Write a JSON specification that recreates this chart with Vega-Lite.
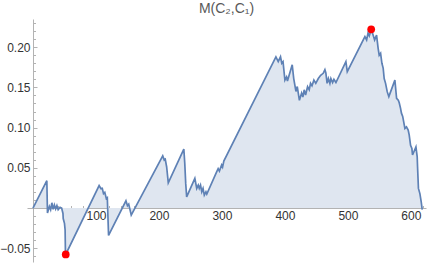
{
  "$schema": "https://vega.github.io/schema/vega-lite/v6.json",
  "width": 399,
  "height": 243,
  "autosize": {"type": "none"},
  "padding": {"left": 27, "top": 19, "right": 5, "bottom": 5},
  "background": "white",
  "config": {
    "view": {"stroke": null},
    "axis": {
      "labelFont": "Liberation Sans",
      "labelFontSize": 12,
      "labelColor": "#333333",
      "domainColor": "#b3b3b3",
      "tickColor": "#b3b3b3",
      "grid": false,
      "title": null,
      "zindex": 1
    }
  },
  "title": {
    "text": "M(C₂,C₁)",
    "font": "Liberation Sans",
    "fontSize": 14,
    "fontWeight": "normal",
    "color": "#595959",
    "anchor": "middle",
    "offset": 3
  },
  "datasets": {
    "walk": [
      {"x": 0, "y": 0}, {"x": 22, "y": 0.034}, {"x": 23, "y": -0.006}, {"x": 26, "y": 0.002},
      {"x": 28, "y": -0.002}, {"x": 30, "y": 0.0066}, {"x": 32, "y": -0.0016}, {"x": 34, "y": 0.004},
      {"x": 36, "y": -0.001}, {"x": 38, "y": 0.003}, {"x": 40, "y": -0.002}, {"x": 43, "y": 0.001},
      {"x": 45.5, "y": 0}, {"x": 47.6, "y": -0.0067}, {"x": 48, "y": -0.013}, {"x": 50, "y": -0.019},
      {"x": 51, "y": -0.027}, {"x": 51.5, "y": -0.054}, {"x": 52, "y": -0.0576},
      {"x": 105, "y": 0.028}, {"x": 108, "y": 0.024}, {"x": 110, "y": 0.0245}, {"x": 112, "y": 0.018},
      {"x": 114, "y": 0.0195}, {"x": 116.4, "y": 0.012}, {"x": 118, "y": 0.013}, {"x": 120, "y": -0.034},
      {"x": 147.6, "y": 0.009}, {"x": 150, "y": 0.003}, {"x": 152, "y": 0.005}, {"x": 156, "y": -0.0087},
      {"x": 206, "y": 0.065}, {"x": 208.4, "y": 0.0597}, {"x": 210, "y": 0.0606}, {"x": 212.2, "y": 0.0514},
      {"x": 214.8, "y": 0.0315}, {"x": 239.5, "y": 0.0734}, {"x": 241, "y": 0.0556}, {"x": 242.5, "y": 0.0307},
      {"x": 244, "y": 0.014}, {"x": 257, "y": 0.037}, {"x": 260, "y": 0.0245}, {"x": 262.4, "y": 0.0286},
      {"x": 264, "y": 0.0245}, {"x": 266, "y": 0.0286}, {"x": 268, "y": 0.0203}, {"x": 270, "y": 0.0245},
      {"x": 272, "y": 0.0162}, {"x": 274.6, "y": 0.0203}, {"x": 276, "y": 0.0174}, {"x": 291.6, "y": 0.045},
      {"x": 294, "y": 0.049}, {"x": 296, "y": 0.046}, {"x": 299.5, "y": 0.0535}, {"x": 301, "y": 0.051},
      {"x": 303, "y": 0.0585}, {"x": 385.7, "y": 0.188}, {"x": 389.4, "y": 0.182}, {"x": 393, "y": 0.188},
      {"x": 395, "y": 0.18}, {"x": 397, "y": 0.182}, {"x": 400, "y": 0.159}, {"x": 402.6, "y": 0.163},
      {"x": 404, "y": 0.158}, {"x": 411.6, "y": 0.178}, {"x": 414, "y": 0.161}, {"x": 417.5, "y": 0.145},
      {"x": 419.6, "y": 0.151}, {"x": 423, "y": 0.134}, {"x": 426.5, "y": 0.143}, {"x": 428.5, "y": 0.138},
      {"x": 430.6, "y": 0.147}, {"x": 432.8, "y": 0.1405}, {"x": 436, "y": 0.151}, {"x": 438.6, "y": 0.147},
      {"x": 440.7, "y": 0.155}, {"x": 443, "y": 0.152}, {"x": 446, "y": 0.159}, {"x": 449, "y": 0.155},
      {"x": 453, "y": 0.161}, {"x": 456.7, "y": 0.165}, {"x": 460.8, "y": 0.1675}, {"x": 463.5, "y": 0.172},
      {"x": 465, "y": 0.168}, {"x": 467, "y": 0.155}, {"x": 469, "y": 0.161}, {"x": 471.4, "y": 0.155},
      {"x": 473, "y": 0.161}, {"x": 475.7, "y": 0.156}, {"x": 477.8, "y": 0.16}, {"x": 481, "y": 0.156},
      {"x": 496.8, "y": 0.182}, {"x": 499, "y": 0.1695}, {"x": 527, "y": 0.213}, {"x": 529.7, "y": 0.209},
      {"x": 532, "y": 0.2175}, {"x": 534, "y": 0.214}, {"x": 537, "y": 0.2222}, {"x": 540, "y": 0.215},
      {"x": 542.4, "y": 0.209}, {"x": 545.5, "y": 0.215}, {"x": 548, "y": 0.1986}, {"x": 549.7, "y": 0.19},
      {"x": 551.9, "y": 0.1924}, {"x": 554, "y": 0.18}, {"x": 556, "y": 0.174}, {"x": 557.6, "y": 0.161},
      {"x": 559.8, "y": 0.155}, {"x": 562.4, "y": 0.1447}, {"x": 565, "y": 0.1385}, {"x": 574.6, "y": 0.159},
      {"x": 577.3, "y": 0.1364}, {"x": 580, "y": 0.134}, {"x": 581.5, "y": 0.131}, {"x": 583.6, "y": 0.124},
      {"x": 585, "y": 0.118}, {"x": 587, "y": 0.114}, {"x": 590.5, "y": 0.099}, {"x": 593, "y": 0.101},
      {"x": 595.7, "y": 0.097}, {"x": 597.3, "y": 0.091}, {"x": 599.5, "y": 0.078}, {"x": 601.6, "y": 0.074},
      {"x": 602.6, "y": 0.066}, {"x": 604.8, "y": 0.07}, {"x": 608, "y": 0.076}, {"x": 610, "y": 0.064},
      {"x": 610.6, "y": 0.051}, {"x": 612, "y": 0.0245}, {"x": 614.3, "y": 0.018}, {"x": 616.4, "y": 0.0078},
      {"x": 618, "y": -0.002}
    ],
    "extremes": [
      {"x": 52, "y": -0.0576},
      {"x": 537, "y": 0.2222}
    ]
  },
  "layer": [
    {
      "data": {"name": "walk"},
      "mark": {
        "type": "area",
        "color": "#DFE6F0",
        "opacity": 1,
        "line": {"color": "#5E81B5", "strokeWidth": 1.7}
      },
      "encoding": {
        "x": {
          "field": "x",
          "type": "quantitative",
          "scale": {"domain": [-9.5, 624], "nice": false, "zero": false},
          "axis": {
            "orient": "bottom",
            "offset": -54,
            "values": [100, 200, 300, 400, 500, 600],
            "format": "d",
            "tickSize": -4,
            "labelPadding": 6
          }
        },
        "y": {
          "field": "y",
          "type": "quantitative",
          "scale": {"domain": [-0.067, 0.235], "nice": false, "zero": false},
          "axis": {
            "orient": "left",
            "offset": -6,
            "values": [-0.05, 0.05, 0.1, 0.15, 0.2],
            "format": ".2f",
            "tickSize": -4,
            "labelPadding": 7
          }
        }
      }
    },
    {
      "data": {"name": "extremes"},
      "mark": {"type": "point", "filled": true, "color": "#FF0000", "opacity": 1, "size": 60},
      "encoding": {
        "x": {
          "field": "x",
          "type": "quantitative",
          "axis": {
            "orient": "bottom",
            "offset": -54,
            "values": [20, 40, 60, 80, 120, 140, 160, 180, 220, 240, 260, 280, 320, 340, 360, 380, 420, 440, 460, 480, 520, 540, 560, 580, 620],
            "labels": false,
            "domain": false,
            "tickSize": -2.5
          }
        },
        "y": {
          "field": "y",
          "type": "quantitative",
          "axis": {
            "orient": "left",
            "offset": -6,
            "values": [-0.06, -0.04, -0.03, -0.02, -0.01, 0.01, 0.02, 0.03, 0.04, 0.06, 0.07, 0.08, 0.09, 0.11, 0.12, 0.13, 0.14, 0.16, 0.17, 0.18, 0.19, 0.21, 0.22, 0.23],
            "labels": false,
            "domain": false,
            "tickSize": -2.5
          }
        }
      }
    }
  ],
  "resolve": {"axis": {"x": "independent", "y": "independent"}}
}
